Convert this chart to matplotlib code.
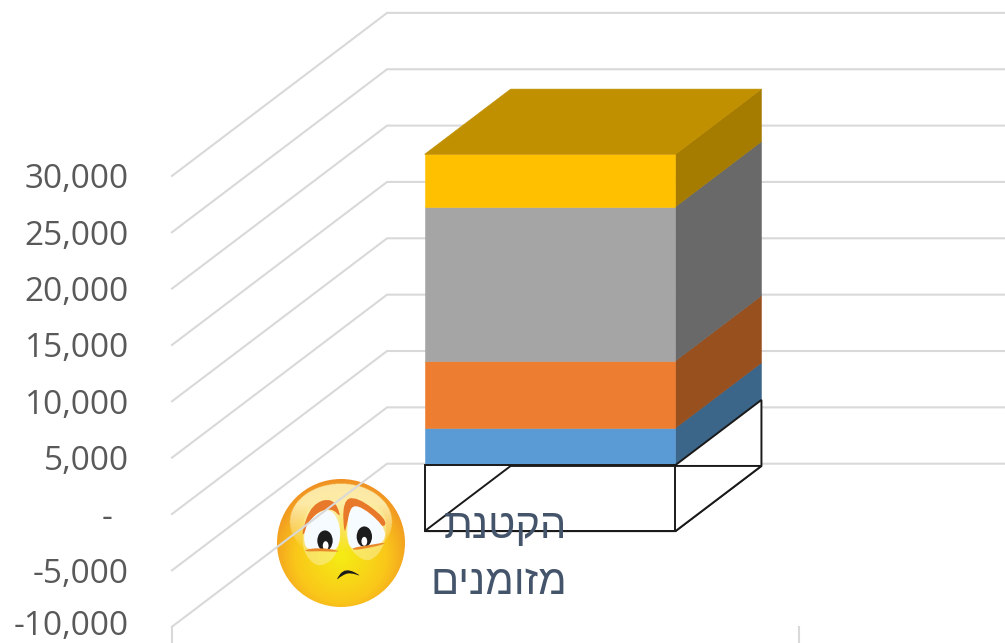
# plot.py - stacked 3D looking column with a negative outlined segment
import numpy as np
import matplotlib
matplotlib.use("Agg")
import matplotlib.pyplot as plt
from matplotlib.patches import Circle, Polygon, PathPatch, Ellipse
from matplotlib.path import Path

# DATA
tick_values = [30000, 25000, 20000, 15000, 10000, 5000, 0, -5000, -10000]
tick_labels = ["30,000", "25,000", "20,000", "15,000", "10,000", "5,000", "-", "-5,000", "-10,000"]
stack_values = [3290, 5950, 13680, 4660]
front_colors = ["#5b9bd5", "#ed7d31", "#a5a5a5", "#ffc000"]
side_colors = ["#3b6589", "#97501e", "#696969", "#a67c00"]
top_color = "#c09000"
negative_value = -5860
note_lines = ["הקטנת", "מזומנים"]

# oblique projection of the 3D box: depth 0 = front, 1 = back wall
DEPTH_X = 0.343
DEPTH_Y = 14463
BAR_X = (0.3, 0.7)
BAR_D = (0.3, 0.7)


def proj(x, v, d):
    return (x + d * DEPTH_X, v + d * DEPTH_Y)


def box_faces(v0, v1):
    x0, x1 = BAR_X
    d0, d1 = BAR_D
    front = [proj(x0, v0, d0), proj(x1, v0, d0), proj(x1, v1, d0), proj(x0, v1, d0)]
    side = [proj(x1, v0, d0), proj(x1, v0, d1), proj(x1, v1, d1), proj(x1, v1, d0)]
    top = [proj(x0, v1, d0), proj(x1, v1, d0), proj(x1, v1, d1), proj(x0, v1, d1)]
    return front, side, top


def blob(points, color, alpha=1.0):
    # smooth closed shape through control points given in face-sketch units
    pts = [((x - 213) / 192, (212 - y) / 192) for x, y in points]
    n = len(pts)
    mid = lambda a, b: ((a[0] + b[0]) / 2, (a[1] + b[1]) / 2)
    verts = [mid(pts[-1], pts[0])]
    codes = [Path.MOVETO]
    for i in range(n):
        verts += [pts[i], mid(pts[i], pts[(i + 1) % n])]
        codes += [Path.CURVE3, Path.CURVE3]
    return PathPatch(Path(verts, codes), fc=color, ec="none", alpha=alpha)


fig = plt.figure(figsize=(10.05, 6.43), dpi=100, facecolor="white")

# 1. THE SAD FACE (sits under the gridlines)
fx, fy, fr = 341, 543, 64
face = fig.add_axes([(fx - fr) / 1005, 1 - (fy + fr) / 643, 2 * fr / 1005, 2 * fr / 643], zorder=1)
face.set_xlim(-1, 1)
face.set_ylim(-1, 1)
face.axis("off")

gx, gy = np.meshgrid(np.linspace(-1, 1, 300), np.linspace(-1, 1, 300))
rad = np.clip(np.hypot(gx, gy + 0.2) / 1.2, 0, 1)
c_in = np.array([0.96, 0.93, 0.08])
c_mid = np.array([0.98, 0.78, 0.10])
c_out = np.array([0.94, 0.56, 0.14])
t1 = np.clip(rad / 0.6, 0, 1)[..., None]
t2 = np.clip((rad - 0.6) / 0.4, 0, 1)[..., None]
img = face.imshow((c_in * (1 - t1) + c_mid * t1) * (1 - t2) + c_out * t2,
                  extent=(-1, 1, -1, 1), origin="lower", aspect="auto")
img.set_clip_path(Circle((0, 0), 1.0, transform=face.transData))

# soft top glare, fades out going down
glare = np.zeros((300, 300, 4))
glare[..., :3] = [1.0, 0.97, 0.75]
inside = np.hypot(gx / 0.80, (gy - 0.33) / 0.60) < 1
glare[..., 3] = inside * np.clip((gy + 0.15) / 0.9, 0, 0.85)
glow = face.imshow(glare, extent=(-1, 1, -1, 1), origin="lower", aspect="auto", interpolation="bilinear")
glow.set_clip_path(Circle((0, 0), 1.0, transform=face.transData))

# pale loops under the eyes
face.add_patch(blob([(95, 200), (110, 90), (210, 90), (212, 240), (150, 290), (105, 250)], "#fbf0a0", 0.55))
face.add_patch(blob([(225, 190), (230, 80), (345, 100), (352, 210), (300, 275), (245, 240)], "#fbf0a0", 0.55))
# brows
face.add_patch(blob([(95, 180), (125, 95), (190, 75), (216, 140), (185, 105), (130, 125), (102, 190)], "#e8782a"))
face.add_patch(blob([(222, 190), (218, 85), (260, 72), (350, 140), (342, 170), (300, 125), (245, 100), (232, 150)],
                    "#e8782a"))
# eyes
face.add_patch(blob([(100, 232), (105, 150), (178, 100), (214, 160), (205, 238), (150, 228)], "#f6fbff"))
face.add_patch(blob([(232, 235), (232, 125), (258, 90), (345, 160), (345, 212), (290, 222)], "#f6fbff"))
face.add_patch(Ellipse(((165 - 213) / 192, (212 - 205) / 192), 0.24, 0.32, color="#1c1c1c", lw=0))
face.add_patch(Ellipse(((283 - 213) / 192, (212 - 193) / 192), 0.24, 0.32, color="#1c1c1c", lw=0))
face.add_patch(Ellipse(((167 - 213) / 192, (212 - 220) / 192), 0.09, 0.14, color="white", lw=0))
face.add_patch(Ellipse(((283 - 213) / 192, (212 - 207) / 192), 0.09, 0.14, color="white", lw=0))
# lower lids
face.add_patch(blob([(105, 232), (150, 226), (205, 234), (205, 239), (150, 236), (108, 238)], "#e8882a"))
face.add_patch(blob([(248, 226), (295, 219), (345, 210), (342, 216), (295, 227), (250, 234)], "#e8882a"))
# mouth
face.add_patch(blob([(195, 327), (225, 285), (282, 315), (240, 300), (215, 310)], "#1a1a1a"))

# 2. MAIN AXES COVERS THE WHOLE FIGURE
ax = fig.add_axes([0, 0, 1, 1], zorder=2)
ax.patch.set_alpha(0)
ax.set_xlim(-172 / 627, 833 / 627)
ax.set_ylim(-11446, 45608)
ax.axis("off")

# gridlines: slanted side wall then the back wall
grid_color = "#d9d9d9"
for v in tick_values:
    px, py = zip(proj(0, v, 0), proj(0, v, 1), proj(1, v, 1))
    ax.plot(px, py, color=grid_color, lw=1.5, zorder=1, solid_joinstyle="miter")

# category tick marks under the floor
for x in [0, 1]:
    ax.plot([x, x], [tick_values[-1], ax.get_ylim()[0]], color=grid_color, lw=1.5, zorder=1)

# 3. STACKED COLUMN
base = 0
for val, fc, sc in zip(stack_values, front_colors, side_colors):
    front, side, top = box_faces(base, base + val)
    ax.add_patch(Polygon(side, closed=True, fc=sc, ec=sc, lw=0.4, zorder=3))
    ax.add_patch(Polygon(front, closed=True, fc=fc, ec=fc, lw=0.4, zorder=3))
    base += val
ax.add_patch(Polygon(top, closed=True, fc=top_color, ec=top_color, lw=0.4, zorder=3))

# 4. NEGATIVE SEGMENT, WHITE WITH A BLACK OUTLINE
front, side, bottom = box_faces(0, negative_value)
for poly, fill in [(side, "white"), (bottom, "white"), (front, "none")]:
    ax.add_patch(Polygon(poly, closed=True, fc=fill, ec="#1a1a1a", lw=1.4, zorder=4))

# 5. TEXT
for v, lab in zip(tick_values, tick_labels):
    right = 112 / 1005 if lab == "-" else 129 / 1005
    # lowest label nudged up so the comma stays inside the picture
    nudge = 330 if v == tick_values[-1] else 0
    ax.text(right, v + nudge, lab, transform=ax.get_yaxis_transform(), ha="right", va="center_baseline",
            fontsize=24, color="#595959", family="Open Sans", zorder=5)

# matplotlib has no bidi, so hebrew goes in visual order
for line, y_px in zip(note_lines, [538, 594]):
    ax.text(567 / 1005, 1 - y_px / 643, line[::-1], transform=ax.transAxes, ha="right", va="baseline",
            fontsize=30, color="#44546a", family="Liberation Sans", zorder=5)

fig.savefig("out.png", dpi=100)
